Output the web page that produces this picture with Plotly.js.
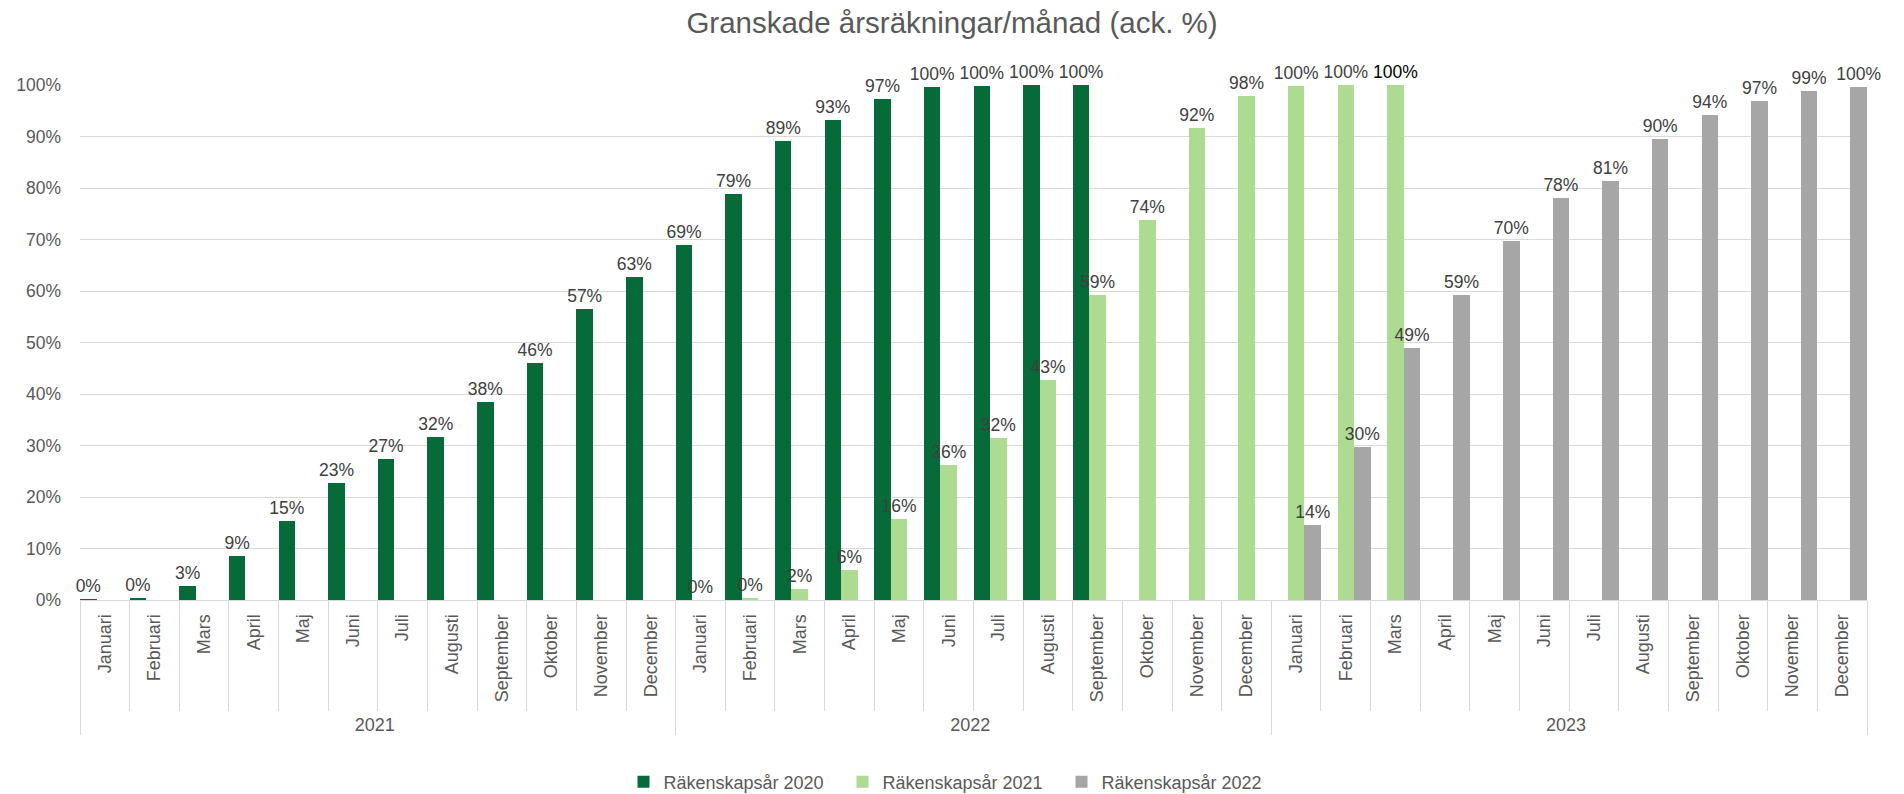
<!DOCTYPE html>
<html><head><meta charset="utf-8">
<script src="https://cdn.plot.ly/plotly-3.0.1.min.js"></script>
<style>html,body{margin:0;padding:0;background:#fff}</style>
</head><body><div id="chart" style="width:1904px;height:794px"></div>
<script>
const years = ['2021', '2022', '2023'];
const months = ['Januari', 'Februari', 'Mars', 'April', 'Maj', 'Juni', 'Juli', 'Augusti', 'September', 'Oktober', 'November', 'December'];

const series2020 = [
  0.002, 0.004, 0.028, 0.086, 0.153, 0.228, 0.274, 0.316, 0.384, 0.461, 0.566, 0.627,
  0.690, 0.788, 0.892, 0.932, 0.972, 0.997, 0.998, 1.000, 1.000, null, null, null,
  null, null, null, null, null, null, null, null, null, null, null, null
];
const series2021 = [
  null, null, null, null, null, null, null, null, null, null, null, null,
  0.000, 0.003, 0.021, 0.059, 0.158, 0.262, 0.315, 0.427, 0.592, 0.738, 0.916, 0.979,
  0.998, 1.000, 1.000, null, null, null, null, null, null, null, null, null
];
const series2022 = [
  null, null, null, null, null, null, null, null, null, null, null, null,
  null, null, null, null, null, null, null, null, null, null, null, null,
  0.145, 0.298, 0.489, 0.592, 0.698, 0.781, 0.813, 0.895, 0.941, 0.969, 0.988, 0.997
];
const seriesNames = ['Räkenskapsår 2020', 'Räkenskapsår 2021', 'Räkenskapsår 2022'];
const seriesColors = ['#076B39', '#ADDB91', '#A6A6A6'];
const highlightedLabel = {series: 1, index: 26};

const xYear = [], xMonth = [];
years.forEach(y => months.forEach(m => { xYear.push(y); xMonth.push(m); }));

const FONT = 'Liberation Sans, Arial, sans-serif';
const allSeries = [series2020, series2021, series2022];
const traces = allSeries.map((vals, s) => ({
  type: 'bar',
  name: seriesNames[s],
  x: [xYear, xMonth],
  y: vals,
  marker: {color: seriesColors[s], line: {width: 0}},
  texttemplate: '%{y:.0%}',
  textposition: 'outside',
  constraintext: 'none',
  cliponaxis: false,
  textfont: {
    family: FONT, size: 17.5,
    color: vals.map((v, i) => (s === highlightedLabel.series && i === highlightedLabel.index) ? '#000000' : '#404040')
  },
  hoverinfo: 'skip'
}));

const layout = {
  width: 1904, height: 794,
  paper_bgcolor: '#ffffff', plot_bgcolor: '#ffffff',
  margin: {l: 80, r: 37, t: 85, b: 194},
  barmode: 'group', bargap: 0, bargroupgap: 0,
  title: {
    text: 'Granskade årsräkningar/månad (ack. %)',
    x: 0.5, xanchor: 'center', xref: 'container',
    y: 1 - 23 / 794, yref: 'container', yanchor: 'middle',
    font: {family: FONT, size: 29.5, color: '#595959'}
  },
  xaxis: {
    type: 'multicategory',
    tickangle: -90,
    tickson: 'boundaries',
    ticks: 'outside', ticklen: 110, tickwidth: 1, tickcolor: '#D9D9D9',
    ticklabelstandoff: 6,
    showdividers: true, dividercolor: '#D9D9D9', dividerwidth: 1,
    showline: true, linecolor: '#D9D9D9', linewidth: 1,
    showgrid: false,
    tickfont: {family: FONT, size: 18, color: '#595959'}
  },
  yaxis: {
    range: [0, 1], dtick: 0.1, tickformat: '.0%',
    showgrid: true, gridcolor: '#D9D9D9', gridwidth: 1,
    zeroline: false, showline: false, ticks: '',
    ticklabelstandoff: 18,
    tickfont: {family: FONT, size: 17.5, color: '#595959'}
  },
  showlegend: true,
  legend: {
    orientation: 'h', xref: 'container', x: 0.5, xanchor: 'center',
    yref: 'container', y: 12 / 794, yanchor: 'middle',
    itemwidth: 30, entrywidth: 174, entrywidthmode: 'pixels',
    font: {family: FONT, size: 18, color: '#595959'},
    itemclick: false, itemdoubleclick: false
  }
};

Plotly.newPlot('chart', traces, layout, {displayModeBar: false, staticPlot: true});
</script>
</body></html>
